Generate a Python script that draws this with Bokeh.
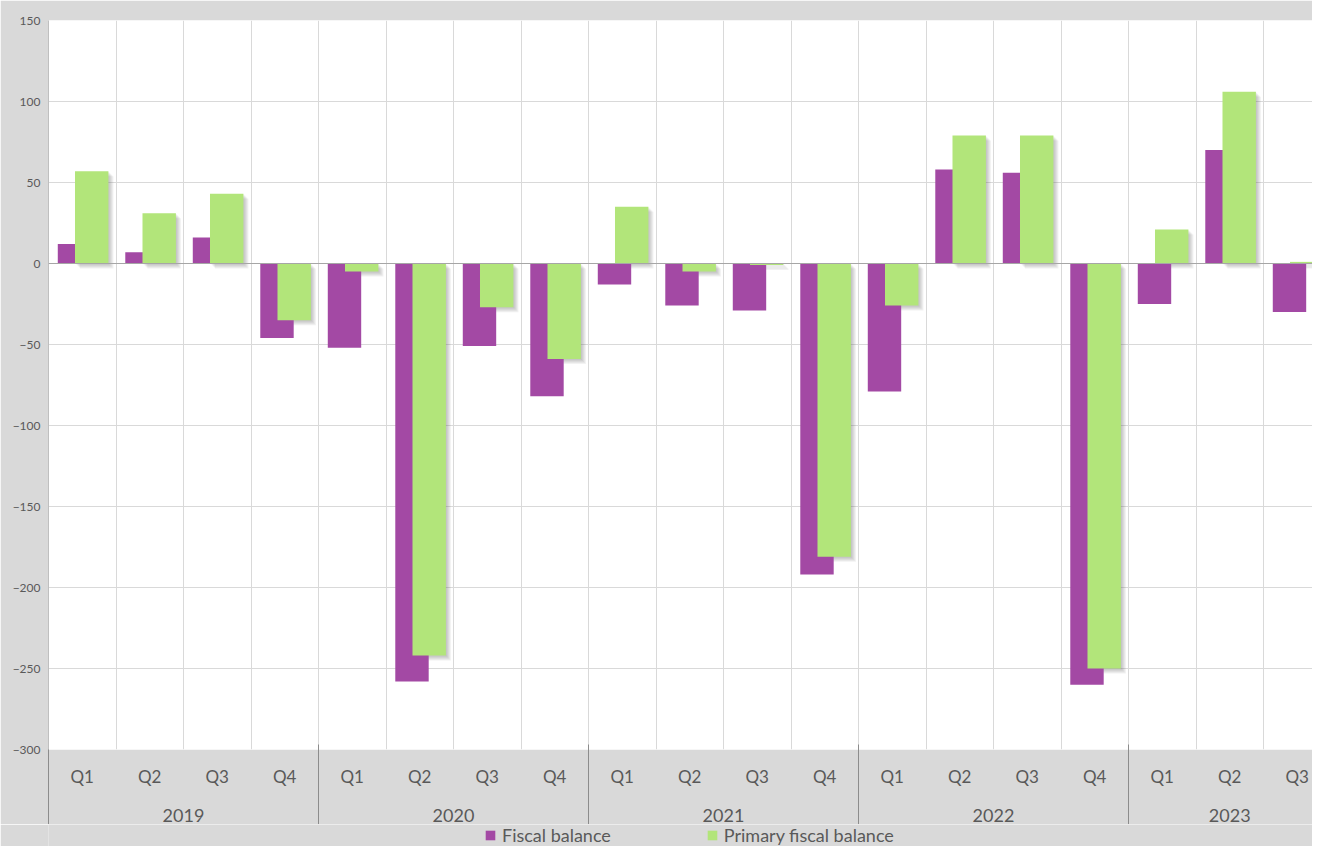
import numpy as np
from bokeh.plotting import figure
from bokeh.layouts import column
from bokeh.models import (Range1d, FixedTicker, LinearAxis, Span, Legend,
                          LegendItem, ColumnDataSource)
from bokeh.embed import file_html
from bokeh.resources import INLINE

# ---------------- data ----------------
years = ["2019"] * 4 + ["2020"] * 4 + ["2021"] * 4 + ["2022"] * 4 + ["2023"] * 3
quarters = ["Q1", "Q2", "Q3", "Q4"] * 4 + ["Q1", "Q2", "Q3"]
fiscal_balance = [12, 7, 16, -46, -52, -258, -51, -82, -13, -26, -29, -192,
                  -79, 58, 56, -260, -25, 70, -30]
primary_fiscal_balance = [57, 31, 43, -35, -5, -242, -27, -59, 35, -5, -1, -181,
                          -26, 79, 79, -250, 21, 106, 1]
series_names = ["Fiscal balance", "Primary fiscal balance"]
y_ticks = list(range(-300, 151, 50))

# ---------------- layout / style ----------------
FONT = "Lato"
TXT = "#595959"
PURPLE = "#A349A4"
GREEN = "#B2E57A"
BG = "#d9d9d9"
W = 1312
H_MAIN, H_LEG = 824, 22
LEFT, TOP, BOTTOM = 48, 20, 75
SLOT_PX = 67.5
FRAME_W = W - LEFT
n = len(quarters)
idx = np.arange(n)
centers = 2 * idx + 1                      # each quarter takes 2 x-units
x_end = FRAME_W / SLOT_PX * 2              # reference cuts the last quarter

year_list = []
for y in years:
    if y not in year_list:
        year_list.append(y)
year_centers = [int(np.mean([centers[i] for i in range(n) if years[i] == y])) for y in year_list]
year_starts = [int(2 * min(i for i in range(n) if years[i] == y)) for y in year_list]

p = figure(width=W, height=H_MAIN, output_backend="svg", toolbar_location=None,
           x_range=Range1d(0, x_end), y_range=Range1d(-300, 150),
           min_border_left=LEFT, min_border_right=0, min_border_top=TOP,
           min_border_bottom=BOTTOM, background_fill_color="white",
           border_fill_color=BG, outline_line_color=None)

# grids
p.ygrid.ticker = FixedTicker(ticks=y_ticks)
p.ygrid.grid_line_color = "#d9d9d9"
p.xgrid.ticker = FixedTicker(ticks=[2 * i for i in range(n + 1)])
p.xgrid.grid_line_color = "#d9d9d9"

# y axis
ya = p.yaxis[0]
ya.ticker = FixedTicker(ticks=y_ticks)
ya.axis_line_color = "#bfbfbf"
ya.major_tick_line_color = None
ya.minor_tick_line_color = None
ya.major_label_standoff = 2
ya.major_label_text_font = FONT
ya.major_label_text_font_size = "12px"
ya.major_label_text_color = TXT

# quarter axis (default x axis)
xa = p.xaxis[0]
xa.ticker = FixedTicker(ticks=[int(c) for c in centers])
xa.major_label_overrides = {int(c): q for c, q in zip(centers, quarters)}
xa.axis_line_color = None
xa.major_tick_out = 0
xa.major_tick_in = 0
xa.major_tick_line_color = None
xa.minor_tick_line_color = None
xa.major_label_standoff = 16
xa.major_label_text_font = FONT
xa.major_label_text_font_size = "17px"
xa.major_label_text_color = TXT

# year axis
yr = LinearAxis(ticker=FixedTicker(ticks=year_centers),
                major_label_overrides={c: y for c, y in zip(year_centers, year_list)})
yr.axis_line_color = None
yr.major_tick_out = 0
yr.major_tick_in = 0
yr.major_tick_line_color = None
yr.minor_tick_line_color = None
yr.major_label_standoff = 19
yr.major_label_text_font = FONT
yr.major_label_text_font_size = "18px"
yr.major_label_text_color = TXT
p.add_layout(yr, "below")

# group separators: an unlabeled axis whose minor ticks run up through the labels
sep = LinearAxis(ticker=FixedTicker(ticks=[], minor_ticks=year_starts))
sep.axis_line_color = None
sep.major_tick_out = 0
sep.major_tick_in = 0
sep.major_tick_line_color = None
sep.minor_tick_out = 0
sep.minor_tick_in = 80
sep.minor_tick_line_color = "#8c8c8c"
sep.major_label_text_font_size = "0px"
sep.major_label_standoff = 0
p.add_layout(sep, "below")

# ---------------- bars ----------------
bar_w = 0.99
xp = centers - 0.23
xg = centers + 0.28
src = ColumnDataSource(dict(xp=xp, xg=xg,
                            fb=fiscal_balance, pfb=primary_fiscal_balance))

# soft drop shadow of the green series
px_x = 2 / SLOT_PX
px_y = 450 / 729
g = np.array(primary_fiscal_balance, dtype=float)
for k in range(1, 6):
    p.vbar(x=xg + k * px_x, width=bar_w, top=g - k * px_y, bottom=-k * px_y,
           fill_color="#555555", fill_alpha=0.08, line_color=None)

p.vbar(x="xp", width=bar_w, top="fb", bottom=0, source=src,
       fill_color=PURPLE, line_color=None)
p.vbar(x="xg", width=bar_w, top="pfb", bottom=0, source=src,
       fill_color=GREEN, line_color=None)

p.add_layout(Span(location=0, dimension="width", line_color="#a6a6a6", line_width=1))

# ---------------- legend strip ----------------
lf = figure(width=W, height=H_LEG, output_backend="svg", toolbar_location=None,
            x_range=Range1d(0, 1), y_range=Range1d(0, 1),
            min_border_left=LEFT, min_border_right=0, min_border_top=0,
            min_border_bottom=0, background_fill_color=BG,
            border_fill_color=BG, outline_line_color=None)
lf.axis.visible = False
lf.grid.visible = False
# legend keys: zero-height proxies placed outside the strip's visible range
k_fb = lf.vbar(x=[-5], top=[0], bottom=[0], width=1, fill_color=PURPLE, line_color=None)
k_pfb = lf.vbar(x=[-5], top=[0], bottom=[0], width=1, fill_color=GREEN, line_color=None)
legend = Legend(items=[LegendItem(label=series_names[0], renderers=[k_fb]),
                       LegendItem(label=series_names[1], renderers=[k_pfb])],
                orientation="horizontal", location=(436, 0), spacing=95,
                glyph_width=12, glyph_height=12, label_standoff=6,
                padding=0, margin=0, label_height=20,
                background_fill_alpha=0, border_line_color=None,
                label_text_font=FONT, label_text_font_size="18px",
                label_text_color=TXT)
lf.add_layout(legend)

layout = column(p, lf, spacing=0)
open("out.html", "w").write(file_html(layout, INLINE))
